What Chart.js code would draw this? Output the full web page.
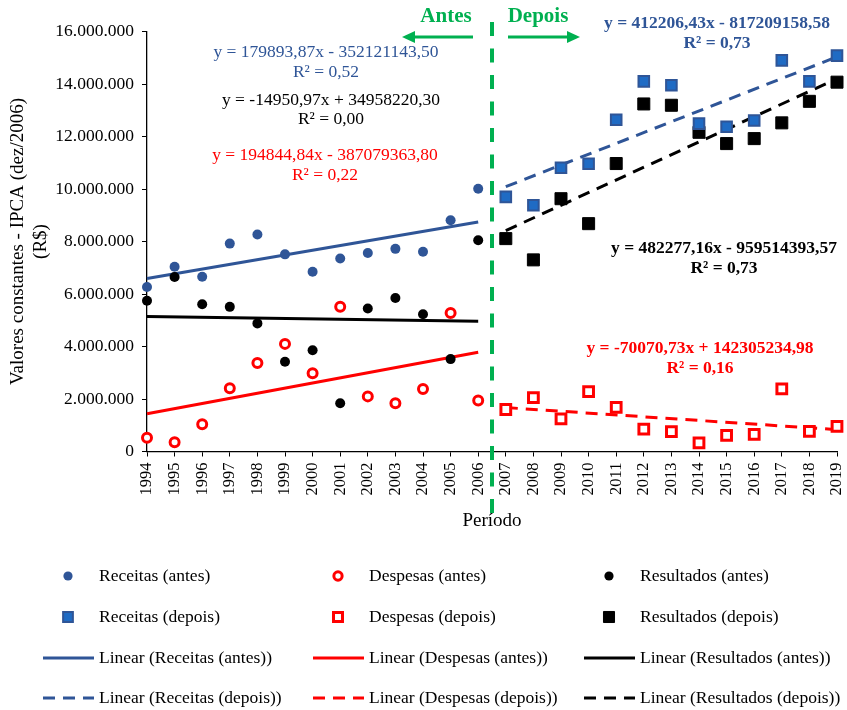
<!DOCTYPE html>
<html>
<head>
<meta charset="utf-8">
<title>Receitas, despesas e resultados (antes / depois)</title>
<script src="https://cdn.jsdelivr.net/npm/chart.js@4.4.0/dist/chart.umd.min.js"></script>
<style>
  html, body { margin: 0; padding: 0; background: #fff; }
  #wrap { width: 847px; height: 710px; }
</style>
</head>
<body>
<div id="wrap"><canvas id="chart" width="847" height="710"></canvas></div>
<script>
const yearsAntes = [1994, 1995, 1996, 1997, 1998, 1999, 2000, 2001, 2002, 2003, 2004, 2005, 2006];
const yearsDepois = [2007, 2008, 2009, 2010, 2011, 2012, 2013, 2014, 2015, 2016, 2017, 2018, 2019];

const receitasAntes = [6270000, 7040000, 6660000, 7920000, 8270000, 7510000, 6850000, 7350000, 7560000, 7720000, 7610000, 8810000, 10010000];
const despesasAntes = [520000, 350000, 1040000, 2410000, 3370000, 4100000, 2980000, 5510000, 2100000, 1840000, 2380000, 5280000, 1940000];
const resultadosAntes = [5740000, 6650000, 5610000, 5510000, 4880000, 3420000, 3860000, 1840000, 5450000, 5850000, 5230000, 3520000, 8050000];

const receitasDepois = [9700000, 9380000, 10810000, 10960000, 12640000, 14100000, 13950000, 12490000, 12370000, 12610000, 14900000, 14100000, 15080000];
const despesasDepois = [1600000, 2050000, 1240000, 2280000, 1680000, 850000, 760000, 330000, 610000, 650000, 2390000, 770000, 960000];
const resultadosDepois = [8110000, 7300000, 9630000, 8680000, 10970000, 13240000, 13190000, 12160000, 11730000, 11920000, 12520000, 13340000, 14070000];

// slope, intercept as printed on the chart
const trendReceitasAntes = [179893.87, -352121143.50];
const trendDespesasAntes = [194844.84, -387079363.80];
const trendResultadosAntes = [-14950.97, 34958220.30];
const trendReceitasDepois = [412206.43, -817209158.58];
const trendDespesasDepois = [-70070.73, 142305234.98];
const trendResultadosDepois = [482277.16, -959514393.57];

const yTicks = [0, 2000000, 4000000, 6000000, 8000000, 10000000, 12000000, 14000000, 16000000];

const BLUE = "#2F5597";
const BLUE_FILL = "#1F6BC4";
const RED = "#FF0000";
const BLACK = "#000000";
const GREEN = "#00B050";
const SERIF = "'Liberation Serif', 'Times New Roman', serif";

const pts = (years, vals) => years.map((x, i) => ({ x, y: vals[i] }));
const trend = (c, years) => [years[0], years[years.length - 1]].map(x => ({ x, y: c[0] * x + c[1] }));

function marker(label, years, vals, style) {
  return Object.assign({ label, type: "scatter", data: pts(years, vals), showLine: false, clip: false }, style);
}
function trendLine(label, coef, years, color, dashed) {
  return {
    label, type: "line", data: trend(coef, years), borderColor: color, borderWidth: 3,
    borderDash: dashed ? [12, 8] : [], pointRadius: 0, fill: false, clip: false
  };
}

const datasets = [
  marker("Receitas (antes)", yearsAntes, receitasAntes, { pointStyle: "circle", pointRadius: 5, backgroundColor: BLUE, borderColor: BLUE, pointBorderWidth: 0 }),
  marker("Despesas (antes)", yearsAntes, despesasAntes, { pointStyle: "circle", pointRadius: 4.5, backgroundColor: "#fff", borderColor: RED, pointBorderWidth: 3 }),
  marker("Resultados (antes)", yearsAntes, resultadosAntes, { pointStyle: "circle", pointRadius: 5, backgroundColor: BLACK, borderColor: BLACK, pointBorderWidth: 0 }),
  marker("Receitas (depois)", yearsDepois, receitasDepois, { pointStyle: "rect", pointRadius: 7.5, backgroundColor: BLUE_FILL, borderColor: BLUE, pointBorderWidth: 2 }),
  marker("Despesas (depois)", yearsDepois, despesasDepois, { pointStyle: "rect", pointRadius: 6.9, backgroundColor: "#fff", borderColor: RED, pointBorderWidth: 3 }),
  marker("Resultados (depois)", yearsDepois, resultadosDepois, { pointStyle: "rect", pointRadius: 8.5, backgroundColor: BLACK, borderColor: BLACK, pointBorderWidth: 1 }),
  trendLine("Linear (Receitas (antes))", trendReceitasAntes, yearsAntes, BLUE, false),
  trendLine("Linear (Despesas (antes))", trendDespesasAntes, yearsAntes, RED, false),
  trendLine("Linear (Resultados (antes))", trendResultadosAntes, yearsAntes, BLACK, false),
  trendLine("Linear (Receitas (depois))", trendReceitasDepois, yearsDepois, BLUE, true),
  trendLine("Linear (Despesas (depois))", trendDespesasDepois, yearsDepois, RED, true),
  trendLine("Linear (Resultados (depois))", trendResultadosDepois, yearsDepois, BLACK, true)
];

// text boxes placed on the chart
const notes = [
  { text: "y = 179893,87x - 352121143,50", color: BLUE, bold: false, x: 326, y: 52 },
  { text: "R² = 0,52", color: BLUE, bold: false, x: 326, y: 72 },
  { text: "y = -14950,97x + 34958220,30", color: BLACK, bold: false, x: 331, y: 100 },
  { text: "R² = 0,00", color: BLACK, bold: false, x: 331, y: 119.5 },
  { text: "y = 194844,84x - 387079363,80", color: RED, bold: false, x: 325, y: 155.5 },
  { text: "R² = 0,22", color: RED, bold: false, x: 325, y: 175 },
  { text: "y = 412206,43x - 817209158,58", color: BLUE, bold: true, x: 717, y: 23 },
  { text: "R² = 0,73", color: BLUE, bold: true, x: 717, y: 43 },
  { text: "y = 482277,16x - 959514393,57", color: BLACK, bold: true, x: 724, y: 248 },
  { text: "R² = 0,73", color: BLACK, bold: true, x: 724, y: 268 },
  { text: "y = -70070,73x + 142305234,98", color: RED, bold: true, x: 700, y: 348 },
  { text: "R² = 0,16", color: RED, bold: true, x: 700, y: 368 }
];

function arrow(ctx, x1, x2, y) {
  const dir = Math.sign(x2 - x1);
  ctx.beginPath();
  ctx.moveTo(x1, y);
  ctx.lineTo(x2 - dir * 10, y);
  ctx.stroke();
  ctx.beginPath();
  ctx.moveTo(x2, y);
  ctx.lineTo(x2 - dir * 13, y - 6);
  ctx.lineTo(x2 - dir * 13, y + 6);
  ctx.closePath();
  ctx.fill();
}

const notesPlugin = {
  id: "notes",
  afterDatasetsDraw(chart) {
    const ctx = chart.ctx;
    const xs = chart.scales.x.getPixelForValue(2006.5);
    ctx.save();
    // divider between the two periods
    ctx.strokeStyle = GREEN;
    ctx.lineWidth = 4;
    ctx.setLineDash([14, 12.5]);
    ctx.beginPath();
    ctx.moveTo(xs, 22);
    ctx.lineTo(xs, 516);
    ctx.stroke();
    ctx.setLineDash([]);

    ctx.fillStyle = GREEN;
    ctx.lineWidth = 3;
    ctx.font = `bold 21px ${SERIF}`;
    ctx.textAlign = "center";
    ctx.textBaseline = "middle";
    ctx.fillText("Antes", xs - 46, 17);
    ctx.fillText("Depois", xs + 46, 17);
    arrow(ctx, xs - 19, xs - 90, 37);
    arrow(ctx, xs + 16, xs + 88, 37);

    notes.forEach(n => {
      ctx.font = `${n.bold ? "bold " : ""}17.5px ${SERIF}`;
      ctx.fillStyle = n.color;
      ctx.fillText(n.text, n.x, n.y);
    });
    ctx.restore();
  }
};

// legend in three columns, like the original
const legendCols = [43, 313, 584];
const legendRows = [576, 617, 658, 698];

const legendPlugin = {
  id: "gridLegend",
  afterDraw(chart) {
    const ctx = chart.ctx;
    ctx.save();
    ctx.font = `17.5px ${SERIF}`;
    ctx.textBaseline = "middle";
    ctx.textAlign = "left";
    chart.data.datasets.forEach((ds, i) => {
      const cx = legendCols[i % 3];
      const cy = legendRows[Math.floor(i / 3)];
      if (ds.type === "line") {
        ctx.strokeStyle = ds.borderColor;
        ctx.lineWidth = ds.borderWidth;
        ctx.setLineDash(ds.borderDash);
        ctx.beginPath();
        ctx.moveTo(cx, cy);
        ctx.lineTo(cx + 51, cy);
        ctx.stroke();
        ctx.setLineDash([]);
      } else {
        ctx.fillStyle = ds.backgroundColor;
        ctx.strokeStyle = ds.borderColor;
        ctx.lineWidth = ds.pointBorderWidth;
        Chart.helpers.drawPoint(ctx, {
          pointStyle: ds.pointStyle, radius: ds.pointRadius * 0.92, rotation: 0, borderWidth: ds.pointBorderWidth
        }, cx + 25, cy);
      }
      ctx.fillStyle = "#000";
      ctx.fillText(ds.label, cx + 56, cy);
    });
    ctx.restore();
  }
};

const tickFont = { family: SERIF, size: 17.5 };
const titleFont = { family: SERIF, size: 19 };

new Chart(document.getElementById("chart"), {
  type: "scatter",
  data: { datasets },
  options: {
    responsive: false,
    animation: false,
    events: [],
    layout: { padding: { left: 0, top: 31.5, right: 10, bottom: 173.5 } },
    plugins: { legend: { display: false }, tooltip: { enabled: false } },
    scales: {
      x: {
        type: "linear",
        min: yearsAntes[0],
        max: yearsDepois[yearsDepois.length - 1],
        ticks: {
          stepSize: 1, autoSkip: false, maxRotation: 90, minRotation: 90, padding: 6,
          color: "#000", font: { family: SERIF, size: 16.5 }, callback: v => String(v)
        },
        grid: { drawOnChartArea: false, drawTicks: true, tickLength: 5, color: "#000" },
        border: { color: "#000", width: 1.3 },
        title: { display: true, text: "Período", color: "#000", font: titleFont, padding: { top: 0, bottom: 4 } },
        afterFit: s => { s.height = 85; s.paddingLeft = 0; s.paddingRight = 0; }
      },
      y: {
        min: yTicks[0],
        max: yTicks[yTicks.length - 1],
        afterBuildTicks: s => { s.ticks = yTicks.map(value => ({ value })); },
        ticks: {
          padding: 8, color: "#000", font: tickFont,
          callback: v => String(v).replace(/\B(?=(\d{3})+(?!\d))/g, ".")
        },
        grid: { drawOnChartArea: false, drawTicks: true, tickLength: 5, color: "#000" },
        border: { color: "#000", width: 1.3 },
        title: {
          display: true, text: ["Valores constantes - IPCA (dez/2006)", "(R$)"], color: "#000",
          font: titleFont, padding: { top: 7, bottom: 0 }
        },
        afterFit: s => { s.width = 147; }
      }
    }
  },
  plugins: [notesPlugin, legendPlugin]
});
</script>
</body>
</html>
